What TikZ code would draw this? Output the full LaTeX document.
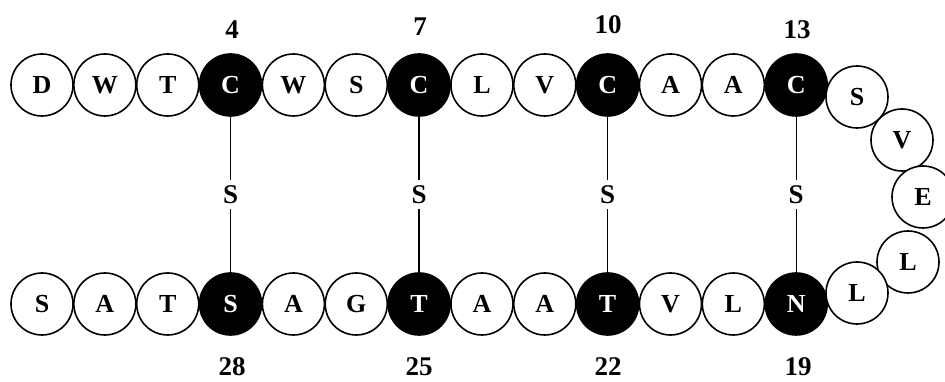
\documentclass[tikz,border=0pt]{standalone}
\usepackage{fontspec}
\setmainfont{Liberation Serif}
\usetikzlibrary{calc}
\begin{document}
\begin{tikzpicture}[x=1pt,y=1pt,
  res/.style={circle, draw=black, line width=1.6pt, minimum size=62pt,
    inner sep=0pt, fill=white, font=\fontsize{26}{26}\selectfont\bfseries},
  cys/.style={res, fill=black, text=white},
  num/.style={anchor=base, inner sep=0pt, font=\fontsize{27}{27}\selectfont\bfseries},
  sulfur/.style={font=\fontsize{27}{27}\selectfont\bfseries, inner sep=5pt},
  bond/.style={line width=1.4pt}]
\clip (0,0) rectangle (945,382);
\useasboundingbox (0,0) rectangle (945,382);

% upper strand, residues 1-13
\foreach \lab [count=\i] in {D,W,T,C,W,S,C,L,V,C,A,A,C}{
  \pgfmathsetmacro{\xx}{42+62.85*(\i-1)}
  \ifnum\i=4 \def\sty{cys}\else\ifnum\i=7 \def\sty{cys}\else
  \ifnum\i=10 \def\sty{cys}\else\ifnum\i=13 \def\sty{cys}\else
  \def\sty{res}\fi\fi\fi\fi
  \node[\sty] (t\i) at (\xx,297) {\lab};
}
% lower strand, residues 31-19
\foreach \lab [count=\i] in {S,A,T,S,A,G,T,A,A,T,V,L,N}{
  \pgfmathsetmacro{\xx}{42+62.85*(\i-1)}
  \ifnum\i=4 \def\sty{cys}\else\ifnum\i=7 \def\sty{cys}\else
  \ifnum\i=10 \def\sty{cys}\else\ifnum\i=13 \def\sty{cys}\else
  \def\sty{res}\fi\fi\fi\fi
  \node[\sty] (b\i) at (\xx,78) {\lab};
}
% turn, residues 14-18
\node[res] (l1) at (857,285) {S};
\node[res] (l2) at (902,242) {V};
\node[res] (l3) at (923,185) {E};
\node[res] (l4) at (908,120) {L};
\node[res] (l5) at (857,89) {L};

% residue numbers
\node[num] (n4)  at (232,343) {4};
\node[num] (n7)  at (420,346) {7};
\node[num] (n10) at (608,348) {10};
\node[num] (n13) at (797,343) {13};
\node[num] (n28) at (232,6) {28};
\node[num] (n25) at (419,6) {25};
\node[num] (n22) at (608,6) {22};
\node[num] (n19) at (798,6) {19};

% bridges between the strands
\foreach \k in {4,7,10,13}{
  \node[sulfur] (s\k) at ($(t\k)!0.5!(b\k)$) {S};
  \draw[bond] (t\k.south) -- (s\k.north);
  \draw[bond] (s\k.south) -- (b\k.north);
}
\end{tikzpicture}
\end{document}
